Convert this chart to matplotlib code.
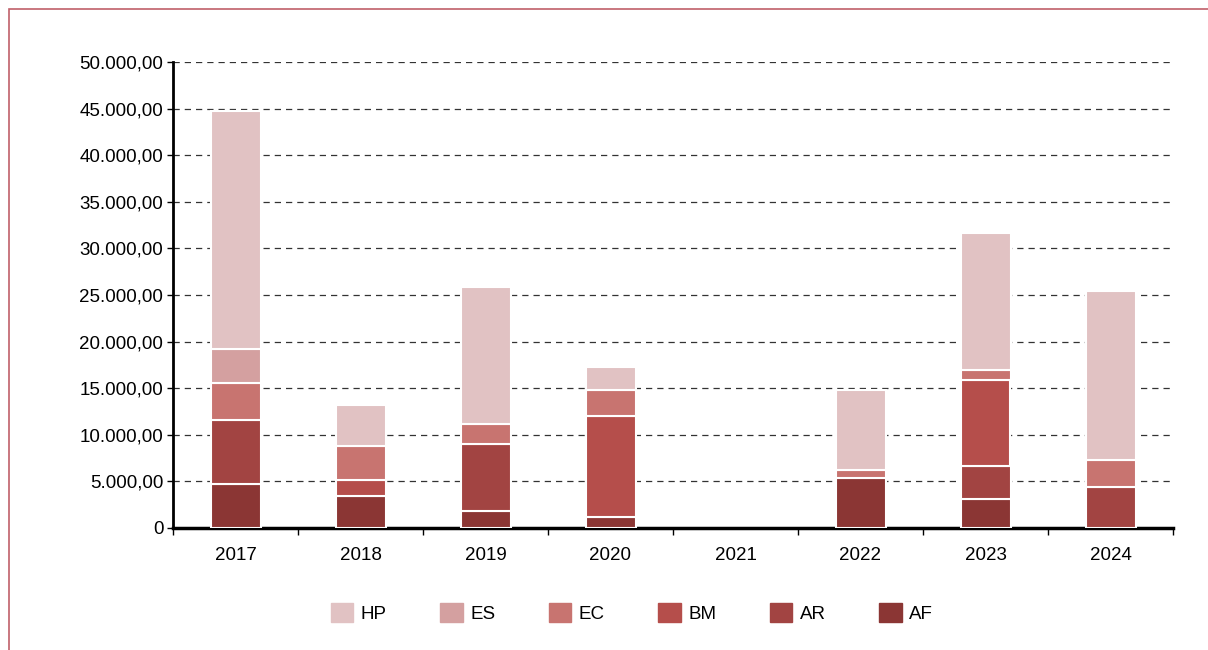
import matplotlib.pyplot as plt
import matplotlib.patches as mpatches
from matplotlib.ticker import FuncFormatter
import numpy as np

plt.rcParams['font.family'] = ['Liberation Sans', 'DejaVu Sans']

# Datos
anios = ['2017', '2018', '2019', '2020', '2021', '2022', '2023', '2024']
series = ['AF', 'AR', 'BM', 'EC', 'ES', 'HP']
AF = [4720, 3430, 1820, 1180, 0, 5360, 3100, 0]
AR = [6870, 0, 7180, 0, 0, 0, 3550, 4430]
BM = [0, 1720, 0, 10820, 0, 0, 9250, 0]
EC = [3970, 3650, 2160, 2800, 0, 860, 1050, 2870]
ES = [3640, 0, 0, 0, 0, 0, 0, 0]
HP = [25540, 4400, 14700, 2470, 0, 8580, 14750, 18100]
valores = [AF, AR, BM, EC, ES, HP]
colores = ['#8b3634', '#a24442', '#b54e4b', '#c87470', '#d4a0a0', '#e1c2c3']

fig = plt.figure(figsize=(12.08, 6.5), dpi=100)
ax = fig.add_axes([173 / 1208, 122 / 650, 1000 / 1208, 466 / 650])

x = np.arange(len(anios))
base = np.zeros(len(anios))
for nombre, v, c in zip(series, valores, colores):
    v = np.array(v, dtype=float)
    m = v > 0  # no dibujar segmentos vacíos
    ax.bar(x[m], v[m], bottom=base[m], width=0.4, color=c, edgecolor='white',
           linewidth=1.5, label=nombre, zorder=3)
    base += v

ax.set_xlim(-0.5, len(anios) - 0.5)
ax.set_ylim(0, 50000)
ax.set_yticks(np.arange(0, 50001, 5000))

def fmt(v, pos):
    if v == 0:
        return '0'
    return f'{v:,.2f}'.replace(',', 'X').replace('.', ',').replace('X', '.')

ax.yaxis.set_major_formatter(FuncFormatter(fmt))
ax.set_xticks(x)
ax.set_xticklabels(anios)
ax.set_xticks(np.arange(-0.5, len(anios), 1), minor=True)
ax.tick_params(axis='x', which='major', length=0, pad=14, labelsize=13.5)
ax.tick_params(axis='x', which='minor', length=5, width=1)
ax.tick_params(axis='y', length=4, width=1, labelsize=13.5, pad=3)

ax.grid(axis='y', linestyle=(0, (5, 4)), color='#333333', linewidth=0.9, zorder=0)
for s in ['top', 'right']:
    ax.spines[s].set_visible(False)
ax.spines['left'].set_linewidth(2)
ax.spines['bottom'].set_linewidth(2.5)

handles = [mpatches.Patch(color=c, label=n) for n, c in zip(series, colores)][::-1]
fig.legend(handles=handles, loc='center', bbox_to_anchor=(0.523, 0.057), ncol=6,
           frameon=False, fontsize=13.5, handlelength=1.2, handleheight=1.2,
           handletextpad=0.4, columnspacing=2.85)

# Marco de la figura
fig.add_artist(mpatches.Rectangle((9 / 1208, -0.1), 1.2, (641 / 650) + 0.1,
                                  transform=fig.transFigure, fill=False,
                                  edgecolor='#c0606a', linewidth=1.2))

fig.savefig('out.png', dpi=100)
